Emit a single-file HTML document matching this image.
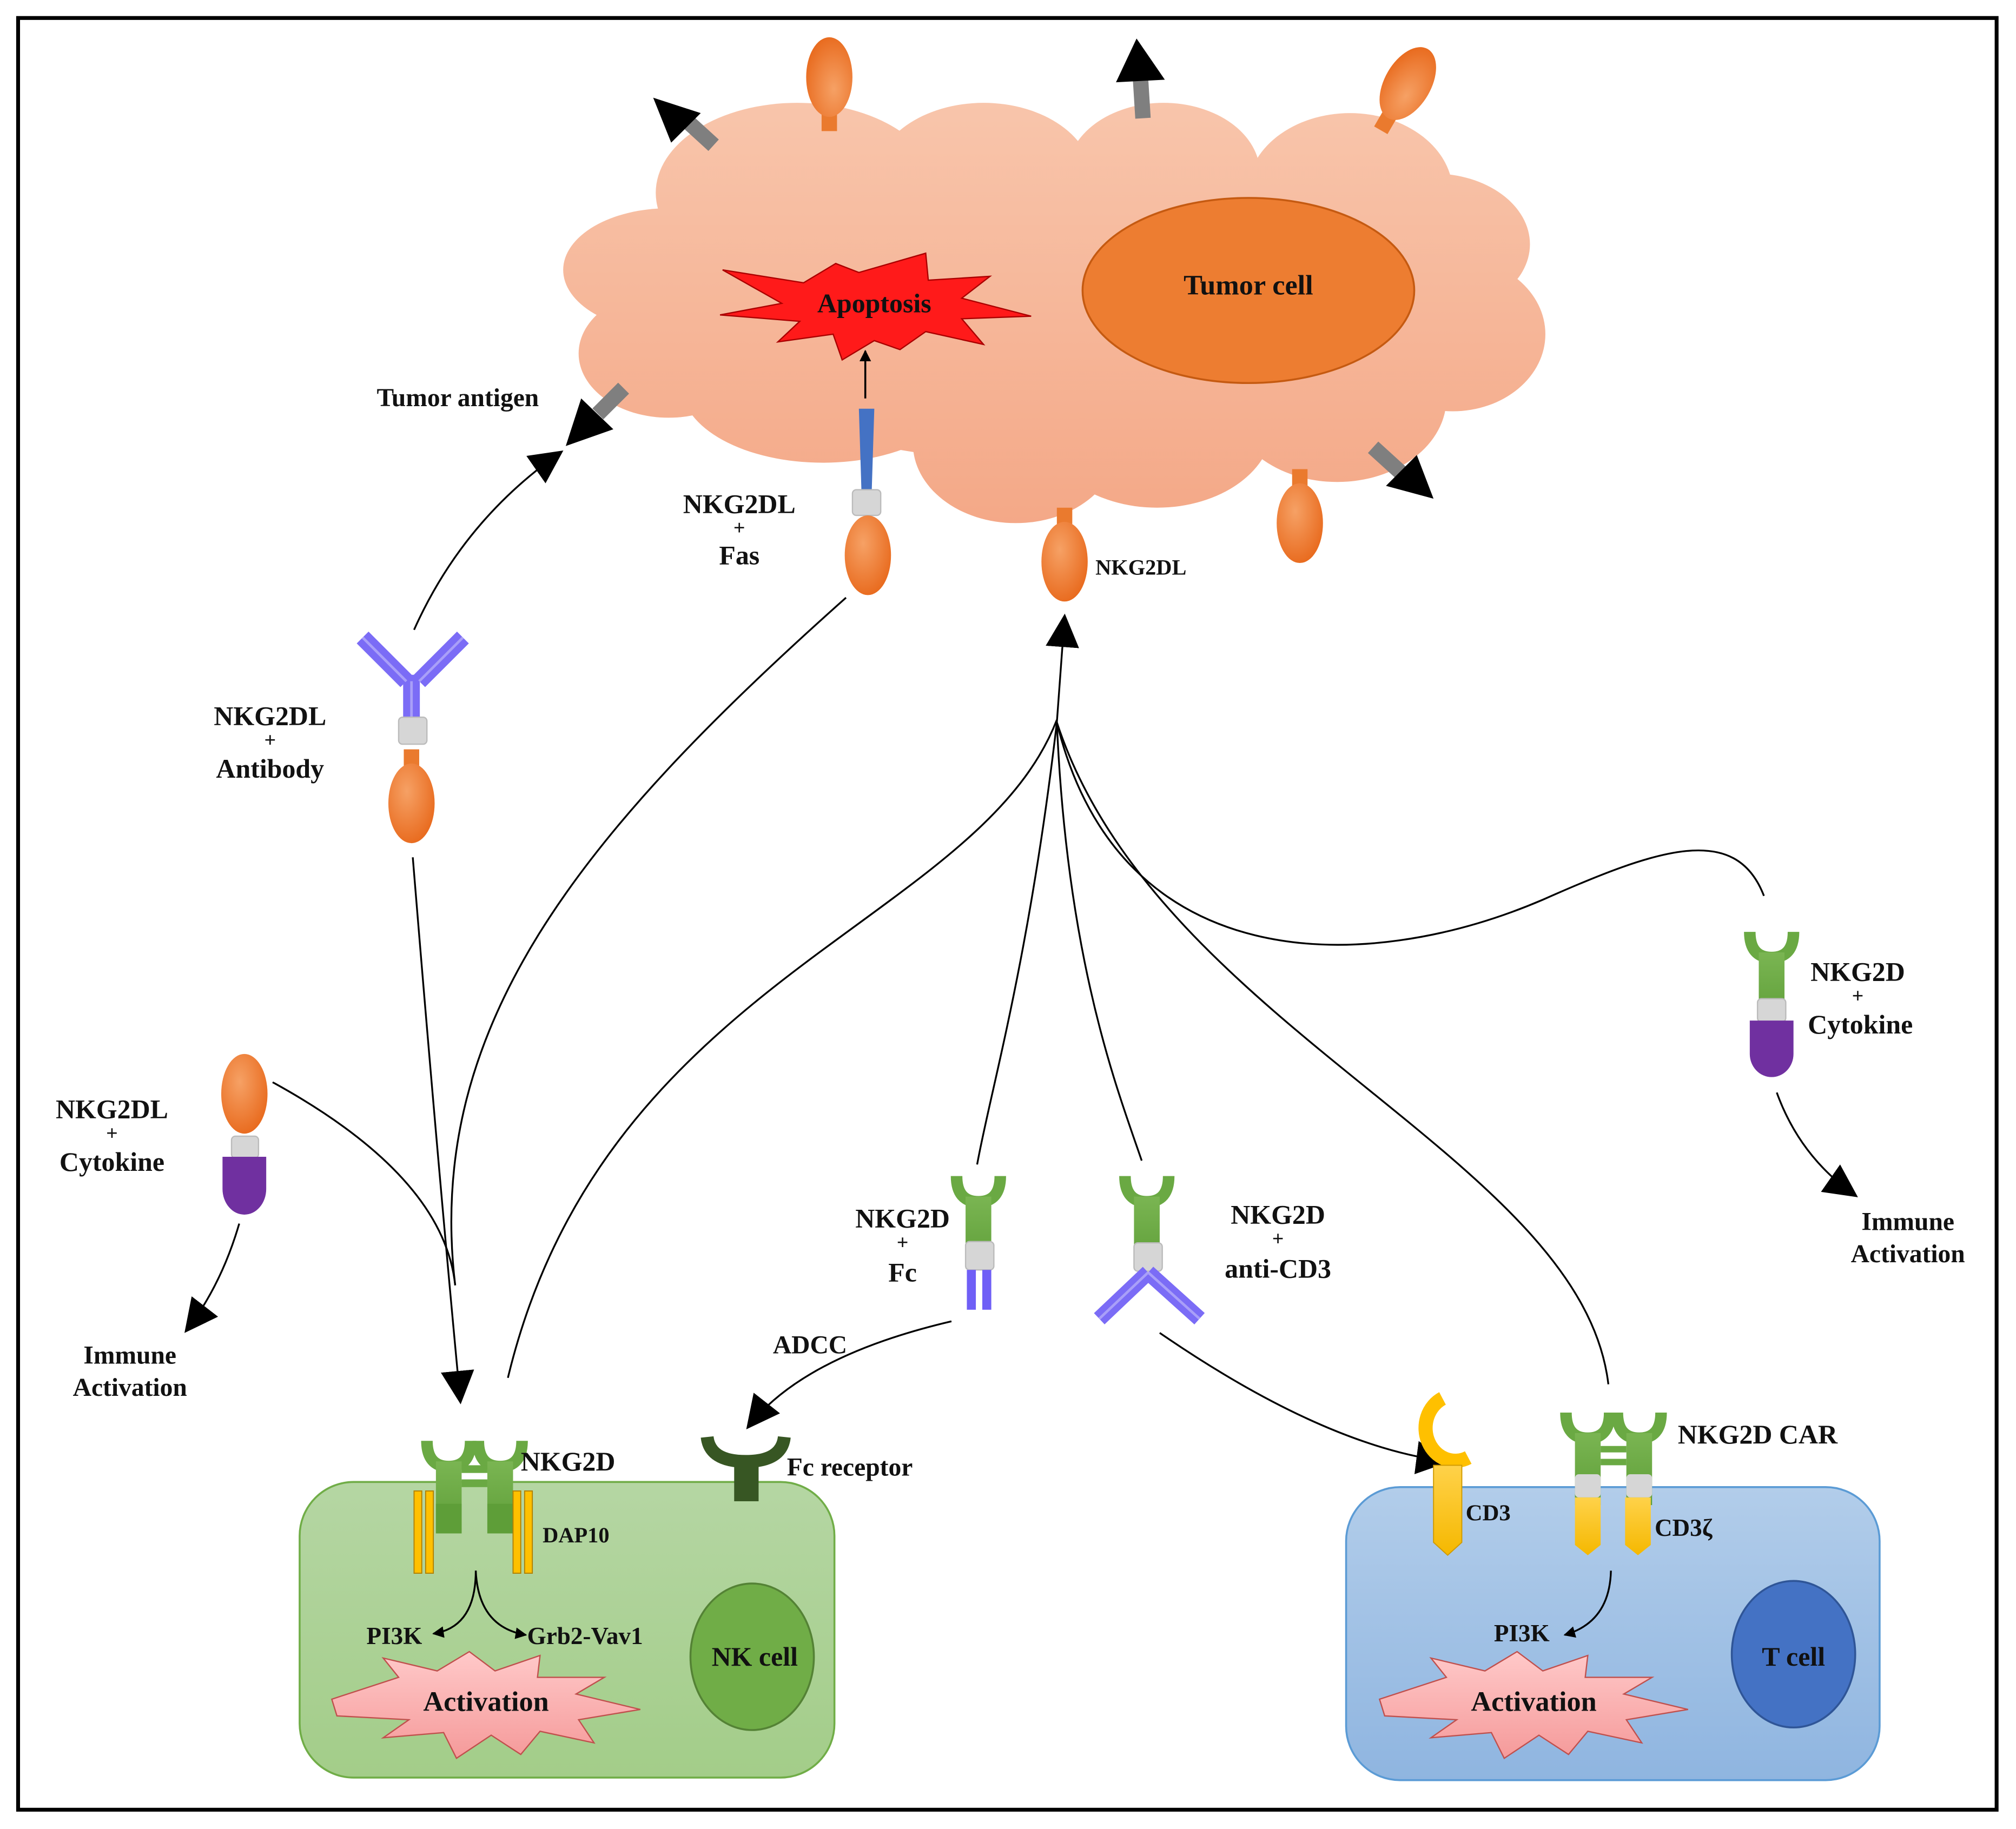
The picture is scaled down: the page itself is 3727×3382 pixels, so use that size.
<!DOCTYPE html>
<html><head><meta charset="utf-8"><style>
html,body{margin:0;padding:0;background:#fff}
svg{display:block}
text{font-family:"Liberation Serif","DejaVu Serif",serif;font-weight:bold;fill:#111}
</style></head><body>
<svg width="3727" height="3382" viewBox="0 0 1568 1423" xmlns="http://www.w3.org/2000/svg" font-family="Liberation Serif, DejaVu Serif, serif">
<defs>
<marker id="ah" viewBox="0 0 10 10" refX="9" refY="5" markerWidth="9" markerHeight="9" markerUnits="userSpaceOnUse" orient="auto"><path d="M0,0L10,5L0,10z" fill="#000"/></marker>
<marker id="ahb" viewBox="0 0 10 10" refX="9" refY="5" markerWidth="26" markerHeight="26" markerUnits="userSpaceOnUse" orient="auto"><path d="M0,0L10,5L0,10z" fill="#000"/></marker>
<linearGradient id="tum" gradientUnits="userSpaceOnUse" x1="0" y1="80" x2="0" y2="410"><stop offset="0" stop-color="#f8c5ab"/><stop offset="1" stop-color="#f4a887"/></linearGradient>
<radialGradient id="org" cx="0.4" cy="0.35" r="0.7"><stop offset="0" stop-color="#f6a165"/><stop offset="1" stop-color="#e8691c"/></radialGradient>
<linearGradient id="nkc" x1="0" y1="0" x2="0" y2="1"><stop offset="0" stop-color="#b5d6a3"/><stop offset="1" stop-color="#a3cd89"/></linearGradient>
<linearGradient id="tc" x1="0" y1="0" x2="0" y2="1"><stop offset="0" stop-color="#b2cdea"/><stop offset="1" stop-color="#8fb5e0"/></linearGradient>
<linearGradient id="grn" x1="0" y1="0" x2="0" y2="1"><stop offset="0" stop-color="#7ab552"/><stop offset="1" stop-color="#5e9e38"/></linearGradient>
<linearGradient id="yel" x1="0" y1="0" x2="0" y2="1"><stop offset="0" stop-color="#ffd24a"/><stop offset="1" stop-color="#f5b800"/></linearGradient>
<linearGradient id="pink" x1="0" y1="0" x2="0" y2="1"><stop offset="0" stop-color="#ffc9c9"/><stop offset="1" stop-color="#f59a9a"/></linearGradient>
<g id="lig"><rect x="-6" y="-42" width="12" height="16" fill="#ea7a2e"/><ellipse cx="0" cy="0" rx="18" ry="31" fill="url(#org)"/></g>
<g id="cup"><path d="M-17,-36 Q-17,-16 0,-16 Q17,-16 17,-36" fill="none" stroke="#6aa943" stroke-width="9"/><rect x="-10" y="-20" width="20" height="56" fill="url(#grn)"/></g>
</defs>
<rect x="0" y="0" width="1568" height="1423" fill="#fff"/>
<rect x="14" y="14" width="1539" height="1394" fill="none" stroke="#000" stroke-width="3"/>

<!-- tumor cloud -->
<g fill="url(#tum)">
<ellipse cx="520" cy="210" rx="82" ry="48"/>
<ellipse cx="520" cy="275" rx="70" ry="50"/>
<ellipse cx="620" cy="150" rx="110" ry="70"/>
<ellipse cx="765" cy="140" rx="85" ry="60"/>
<ellipse cx="905" cy="135" rx="75" ry="55"/>
<ellipse cx="1050" cy="150" rx="80" ry="62"/>
<ellipse cx="1115" cy="190" rx="75" ry="55"/>
<ellipse cx="1130" cy="260" rx="72" ry="60"/>
<ellipse cx="1040" cy="310" rx="85" ry="65"/>
<ellipse cx="900" cy="330" rx="90" ry="65"/>
<ellipse cx="790" cy="345" rx="80" ry="62"/>
<ellipse cx="640" cy="300" rx="110" ry="60"/>
<ellipse cx="820" cy="240" rx="300" ry="120"/>
</g>
<ellipse cx="971" cy="226" rx="129" ry="72" fill="#ed7d31" stroke="#c55a11" stroke-width="1.5"/>
<text x="971" y="229" font-size="22" text-anchor="middle">Tumor cell</text>

<!-- apoptosis -->
<polygon points="562,210 625,220 650,205 668,212 720,197 722,218 770,215 748,232 802,246 748,248 765,268 720,258 700,272 680,265 655,280 648,260 605,266 622,250 560,245 608,236" fill="#ff1a1a" stroke="#a00" stroke-width="1"/>
<text x="680" y="243" font-size="21" text-anchor="middle" fill="#111">Apoptosis</text>
<line x1="673" y1="310" x2="673" y2="273" stroke="#000" stroke-width="1.5" marker-end="url(#ah)"/>

<!-- ligands on tumor -->
<use href="#lig" transform="translate(645,60) rotate(180)"/>
<use href="#lig" transform="translate(1095,65) rotate(210)"/>
<use href="#lig" transform="translate(1011,407)"/>
<use href="#lig" transform="translate(828,437)"/>

<!-- Fas -->
<polygon points="668,318 680,318 678,382 670,382" fill="#4472c4"/>
<rect x="663" y="381" width="22" height="20" rx="3" fill="#d6d6d6" stroke="#bbb"/>
<ellipse cx="675" cy="432" rx="18" ry="31" fill="url(#org)"/>

<!-- gray arrows -->
<g stroke="#7f7f7f" stroke-width="12"><line x1="555" y1="113" x2="532" y2="92"/><line x1="889" y1="92" x2="887" y2="60"/><line x1="1068" y1="348" x2="1090" y2="368"/><line x1="485" y1="302" x2="465" y2="322"/></g>
<polygon points="508,76 545,88 522,111" fill="#000"/>
<polygon points="884,30 906,62 868,64" fill="#000"/>
<polygon points="1115,388 1078,378 1102,354" fill="#000"/>
<polygon points="440,347 452,310 477,334" fill="#000"/>

<!-- texts tumor -->
<text x="293" y="316" font-size="20">Tumor antigen</text>
<text x="575" y="399" font-size="21" text-anchor="middle">NKG2DL</text>
<text x="575" y="416" font-size="16" text-anchor="middle">+</text>
<text x="575" y="439" font-size="21" text-anchor="middle">Fas</text>
<text x="852" y="447" font-size="17">NKG2DL</text>

<!-- antibody + ligand -->
<g stroke="#7b6cf6" stroke-width="13" stroke-linecap="butt"><line x1="282" y1="496" x2="316" y2="530"/><line x1="360" y1="496" x2="326" y2="530"/><line x1="320" y1="525" x2="320" y2="560"/></g>
<g stroke="#a99ff8" stroke-width="2"><line x1="282" y1="496" x2="316" y2="530"/><line x1="360" y1="496" x2="326" y2="530"/><line x1="320" y1="530" x2="320" y2="558"/></g>
<rect x="310" y="558" width="22" height="21" rx="3" fill="#d6d6d6" stroke="#bbb"/>
<use href="#lig" transform="translate(320,625)"/>
<text x="210" y="564" font-size="21" text-anchor="middle">NKG2DL</text>
<text x="210" y="581" font-size="16" text-anchor="middle">+</text>
<text x="210" y="605" font-size="21" text-anchor="middle">Antibody</text>

<!-- ligand + cytokine left -->
<ellipse cx="190" cy="851" rx="18" ry="31" fill="url(#org)"/>
<rect x="180" y="884" width="21" height="17" rx="3" fill="#d6d6d6" stroke="#bbb"/>
<path d="M173,900 H207 V925 A17,20 0 0 1 173,925 Z" fill="#7030a0"/>
<text x="87" y="870" font-size="21" text-anchor="middle">NKG2DL</text>
<text x="87" y="887" font-size="16" text-anchor="middle">+</text>
<text x="87" y="911" font-size="21" text-anchor="middle">Cytokine</text>
<text x="101" y="1061" font-size="20" text-anchor="middle">Immune</text>
<text x="101" y="1086" font-size="20" text-anchor="middle">Activation</text>

<!-- NKG2D + Fc -->
<use href="#cup" transform="translate(761,951)"/>
<rect x="751" y="966" width="22" height="22" rx="3" fill="#d6d6d6" stroke="#bbb"/>
<rect x="752" y="988" width="7" height="31" fill="#6f5ff6"/><rect x="764" y="988" width="7" height="31" fill="#6f5ff6"/>
<text x="702" y="955" font-size="21" text-anchor="middle">NKG2D</text>
<text x="702" y="972" font-size="16" text-anchor="middle">+</text>
<text x="702" y="997" font-size="21" text-anchor="middle">Fc</text>
<text x="630" y="1053" font-size="20" text-anchor="middle">ADCC</text>

<!-- NKG2D + anti-CD3 -->
<use href="#cup" transform="translate(892,951)"/>
<rect x="882" y="967" width="22" height="22" rx="3" fill="#d6d6d6" stroke="#bbb"/>
<g stroke="#7b6cf6" stroke-width="12"><line x1="893" y1="990" x2="855" y2="1026"/><line x1="893" y1="990" x2="933" y2="1026"/></g>
<g stroke="#a99ff8" stroke-width="2"><line x1="893" y1="990" x2="855" y2="1026"/><line x1="893" y1="990" x2="933" y2="1026"/></g>
<text x="994" y="952" font-size="21" text-anchor="middle">NKG2D</text>
<text x="994" y="969" font-size="16" text-anchor="middle">+</text>
<text x="994" y="994" font-size="21" text-anchor="middle">anti-CD3</text>

<!-- NKG2D + cytokine right -->
<use href="#cup" transform="translate(1378,761)"/>
<rect x="1367" y="777" width="22" height="18" rx="3" fill="#d6d6d6" stroke="#bbb"/>
<path d="M1361,794 H1395 V820 A17,18 0 0 1 1361,820 Z" fill="#7030a0"/>
<text x="1445" y="763" font-size="21" text-anchor="middle">NKG2D</text>
<text x="1445" y="780" font-size="16" text-anchor="middle">+</text>
<text x="1447" y="804" font-size="21" text-anchor="middle">Cytokine</text>
<text x="1484" y="957" font-size="20" text-anchor="middle">Immune</text>
<text x="1484" y="982" font-size="20" text-anchor="middle">Activation</text>

<!-- connectors -->
<g fill="none" stroke="#000" stroke-width="1.4">
<path d="M322,490 Q360,405 436,352" marker-end="url(#ahb)"/>
<path d="M321,667 Q340,900 358,1090" marker-end="url(#ahb)"/>
<path d="M212,842 Q345,915 354,1000"/>
<path d="M658,465 C450,650 330,800 354,1000"/>
<path d="M395,1072 C470,760 760,720 822,560"/>
<path d="M822,562 L828,480" marker-end="url(#ahb)"/>
<path d="M822,562 C800,750 770,850 760,906"/>
<path d="M822,562 C830,750 870,850 888,903"/>
<path d="M822,562 C900,800 1230,900 1251,1077"/>
<path d="M822,562 C870,760 1060,760 1200,700 C1290,660 1350,640 1372,697"/>
<path d="M1382,850 Q1400,900 1443,930" marker-end="url(#ahb)"/>
<path d="M186,952 Q172,1000 145,1035" marker-end="url(#ahb)"/>
<path d="M740,1028 Q625,1055 582,1110" marker-end="url(#ahb)"/>
<path d="M902,1037 Q1030,1125 1125,1137" marker-end="url(#ahb)"/>
</g>

<!-- NK cell -->
<rect x="233" y="1153" width="416" height="230" rx="42" fill="url(#nkc)" stroke="#70ad47" stroke-width="1.5"/>
<ellipse cx="585" cy="1289" rx="48" ry="57" fill="#70ad47" stroke="#548235" stroke-width="1.5"/>
<text x="587" y="1296" font-size="21" text-anchor="middle">NK cell</text>
<use href="#cup" transform="translate(349,1157)"/>
<use href="#cup" transform="translate(389,1157)"/>
<rect x="339" y="1170" width="20" height="23" fill="#5e9e38"/><rect x="379" y="1170" width="20" height="23" fill="#5e9e38"/>
<rect x="359" y="1140" width="20" height="6" fill="#6aa943"/><rect x="359" y="1151" width="20" height="6" fill="#6aa943"/>
<g fill="#ffc000" stroke="#b08000" stroke-width="0.8"><rect x="322" y="1160" width="6" height="64"/><rect x="331" y="1160" width="6" height="64"/><rect x="399" y="1160" width="6" height="64"/><rect x="408" y="1160" width="6" height="64"/></g>
<text x="405" y="1144" font-size="21">NKG2D</text>
<text x="422" y="1200" font-size="17">DAP10</text>
<path d="M550,1118 Q552,1137 580,1137 Q608,1137 610,1118" fill="none" stroke="#375623" stroke-width="10"/>
<rect x="571" y="1133" width="19" height="35" fill="#375623"/>
<text x="612" y="1148" font-size="20">Fc receptor</text>
<text x="285" y="1279" font-size="19">PI3K</text>
<text x="410" y="1279" font-size="19">Grb2-Vav1</text>
<polygon points="258,1322 310,1305 298,1290 340,1300 365,1285 385,1300 420,1288 418,1305 470,1305 448,1318 498,1330 450,1338 462,1356 420,1347 405,1365 382,1350 355,1368 345,1348 298,1352 318,1338 262,1335" fill="url(#pink)" stroke="#c0504d" stroke-width="1"/>
<text x="378" y="1331" font-size="22" text-anchor="middle">Activation</text>

<!-- T cell -->
<rect x="1047" y="1157" width="415" height="228" rx="42" fill="url(#tc)" stroke="#5b9bd5" stroke-width="1.5"/>
<ellipse cx="1395" cy="1287" rx="48" ry="57" fill="#4472c4" stroke="#2f5597" stroke-width="1.5"/>
<text x="1395" y="1296" font-size="21" text-anchor="middle">T cell</text>
<path d="M1122,1088 A20,22 0 1 0 1142,1134" fill="none" stroke="#ffc000" stroke-width="11"/>
<path d="M1115,1140 H1137 V1200 L1126,1210 L1115,1200 Z" fill="url(#yel)" stroke="#d09a00" stroke-width="0.8"/>
<text x="1140" y="1183" font-size="18">CD3</text>
<use href="#cup" transform="translate(1235,1135)"/>
<use href="#cup" transform="translate(1275,1135)"/>
<rect x="1245" y="1125" width="20" height="5" fill="#6aa943"/><rect x="1245" y="1135" width="20" height="5" fill="#6aa943"/>
<rect x="1225" y="1147" width="20" height="18" rx="3" fill="#d6d6d6"/><rect x="1265" y="1147" width="20" height="18" rx="3" fill="#d6d6d6"/>
<path d="M1225,1165 H1245 V1202 L1235,1210 L1225,1202 Z" fill="url(#yel)"/>
<path d="M1264,1165 H1284 V1202 L1274,1210 L1264,1202 Z" fill="url(#yel)"/>
<text x="1305" y="1123" font-size="21">NKG2D CAR</text>
<text x="1287" y="1195" font-size="19">CD3ζ</text>
<text x="1162" y="1277" font-size="19">PI3K</text>
<polygon points="1073,1322 1125,1305 1113,1290 1155,1300 1180,1285 1200,1300 1235,1288 1233,1305 1285,1305 1263,1318 1313,1330 1265,1338 1277,1356 1235,1347 1220,1365 1197,1350 1170,1368 1160,1348 1113,1352 1133,1338 1077,1335" fill="url(#pink)" stroke="#c0504d" stroke-width="1"/>
<text x="1193" y="1331" font-size="22" text-anchor="middle">Activation</text>

<g fill="none" stroke="#000" stroke-width="1.4">
<path d="M370,1222 Q370,1266 337,1271" marker-end="url(#ah)"/>
<path d="M370,1222 Q372,1266 409,1272" marker-end="url(#ah)"/>
<path d="M1253,1222 Q1252,1262 1217,1272" marker-end="url(#ah)"/>
</g>
</svg>
</body></html>
